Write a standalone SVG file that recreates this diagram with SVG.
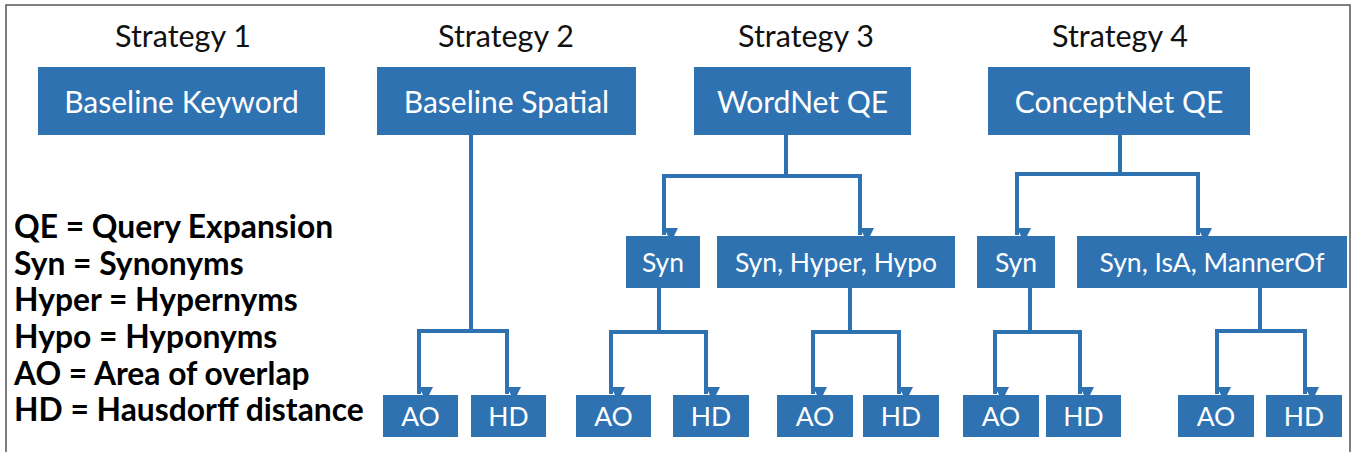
<svg xmlns="http://www.w3.org/2000/svg" width="1354" height="452" viewBox="0 0 1354 452">
<style>
.box{fill:#2e72b2}
.bt{fill:#ffffff;font-family:Lato,"Open Sans",sans-serif;font-size:30px;text-anchor:middle;dominant-baseline:central}
.sm{font-size:26.5px}
.st{fill:#111111;font-family:Lato,"Open Sans",sans-serif;font-size:30.5px;text-anchor:middle}
.lg{fill:#000000;font-family:Lato,"Open Sans",sans-serif;font-size:31.8px;font-weight:bold}
.ln{fill:none;stroke:#2e72b2;stroke-width:4}
.ar{fill:none;stroke:#2e72b2;stroke-width:4;marker-end:url(#ah)}
</style>
<defs>
<marker id="ah" markerUnits="userSpaceOnUse" markerWidth="14" markerHeight="14" viewBox="0 0 14 14" refX="7" refY="14" orient="auto-start-reverse">
<path d="M0,0 L14,0 L7,14 Z" fill="#2e72b2" transform="rotate(-90 7 7)"/>
</marker>
</defs>
<rect x="0" y="0" width="1354" height="452" fill="#ffffff"/>
<path d="M6,452 V5 H1350 V452" fill="none" stroke="#555555" stroke-width="1.5"/>
<g id="labels">
<text class="st" x="183" y="47">Strategy 1</text>
<text class="st" x="506" y="47">Strategy 2</text>
<text class="st" x="806" y="47">Strategy 3</text>
<text class="st" x="1120" y="47">Strategy 4</text>
</g>
<g id="legend">
<text class="lg" x="14" y="238">QE = Query Expansion</text>
<text class="lg" x="14" y="275">Syn = Synonyms</text>
<text class="lg" x="14" y="311">Hyper = Hypernyms</text>
<text class="lg" x="14" y="348">Hypo = Hyponyms</text>
<text class="lg" x="14" y="385">AO = Area of overlap</text>
<text class="lg" x="14" y="421">HD = Hausdorff distance</text>
</g>
<g id="connectors">
<path class="ln" d="M471,135 V331 M419,331 H507"/>
<path class="ar" d="M419,329 V394"/>
<path class="ar" d="M507,329 V394"/>
<path class="ln" d="M786,135 V176 M664,176 H860"/>
<path class="ar" d="M664,174 V235"/>
<path class="ar" d="M860,174 V235"/>
<path class="ln" d="M659,288 V332 M611,332 H706"/>
<path class="ar" d="M611,330 V394"/>
<path class="ar" d="M706,330 V394"/>
<path class="ln" d="M850,288 V332 M813,332 H899"/>
<path class="ar" d="M813,330 V394"/>
<path class="ar" d="M899,330 V394"/>
<path class="ln" d="M1120,135 V174 M1017,174 H1198"/>
<path class="ar" d="M1017,172 V235"/>
<path class="ar" d="M1198,172 V235"/>
<path class="ln" d="M1030,288 V332 M995,332 H1080"/>
<path class="ar" d="M995,330 V394"/>
<path class="ar" d="M1080,330 V394"/>
<path class="ln" d="M1260,288 V331 M1217,331 H1305"/>
<path class="ar" d="M1217,329 V394"/>
<path class="ar" d="M1305,329 V394"/>
</g>
<g id="n-baseline-keyword"><rect class="box" x="38" y="67" width="287" height="68"/><text class="bt" x="181.5" y="101">Baseline Keyword</text></g>
<g id="n-baseline-spatial"><rect class="box" x="377" y="67" width="259" height="68"/><text class="bt" x="506.5" y="101">Baseline Spatial</text></g>
<g id="n-wordnet"><rect class="box" x="694" y="67" width="217" height="68"/><text class="bt" x="802.5" y="101">WordNet QE</text></g>
<g id="n-conceptnet"><rect class="box" x="988" y="67" width="262" height="68"/><text class="bt" x="1119" y="101">ConceptNet QE</text></g>
<g id="n-wn-syn"><rect class="box" x="626" y="236" width="74" height="52"/><text class="bt sm" x="663" y="262">Syn</text></g>
<g id="n-wn-shh"><rect class="box" x="717" y="236" width="238" height="52"/><text class="bt sm" x="836" y="262">Syn, Hyper, Hypo</text></g>
<g id="n-cn-syn"><rect class="box" x="977" y="236" width="78" height="52"/><text class="bt sm" x="1016" y="262">Syn</text></g>
<g id="n-cn-sim"><rect class="box" x="1077" y="236" width="270" height="52"/><text class="bt sm" x="1212" y="262">Syn, IsA, MannerOf</text></g>
<g id="n-s2-ao"><rect class="box" x="383" y="395" width="75" height="42"/><text class="bt sm" x="420.5" y="416">AO</text></g>
<g id="n-s2-hd"><rect class="box" x="471" y="395" width="75" height="42"/><text class="bt sm" x="508.5" y="416">HD</text></g>
<g id="n-wn-syn-ao"><rect class="box" x="576" y="395" width="75" height="42"/><text class="bt sm" x="613.5" y="416">AO</text></g>
<g id="n-wn-syn-hd"><rect class="box" x="673" y="395" width="76" height="42"/><text class="bt sm" x="711" y="416">HD</text></g>
<g id="n-wn-shh-ao"><rect class="box" x="777" y="395" width="76" height="42"/><text class="bt sm" x="815" y="416">AO</text></g>
<g id="n-wn-shh-hd"><rect class="box" x="863" y="395" width="76" height="42"/><text class="bt sm" x="901" y="416">HD</text></g>
<g id="n-cn-syn-ao"><rect class="box" x="963" y="395" width="76" height="42"/><text class="bt sm" x="1001" y="416">AO</text></g>
<g id="n-cn-syn-hd"><rect class="box" x="1046" y="395" width="75" height="42"/><text class="bt sm" x="1083.5" y="416">HD</text></g>
<g id="n-cn-sim-ao"><rect class="box" x="1178" y="395" width="76" height="42"/><text class="bt sm" x="1216" y="416">AO</text></g>
<g id="n-cn-sim-hd"><rect class="box" x="1266" y="395" width="76" height="42"/><text class="bt sm" x="1304" y="416">HD</text></g>
</svg>
